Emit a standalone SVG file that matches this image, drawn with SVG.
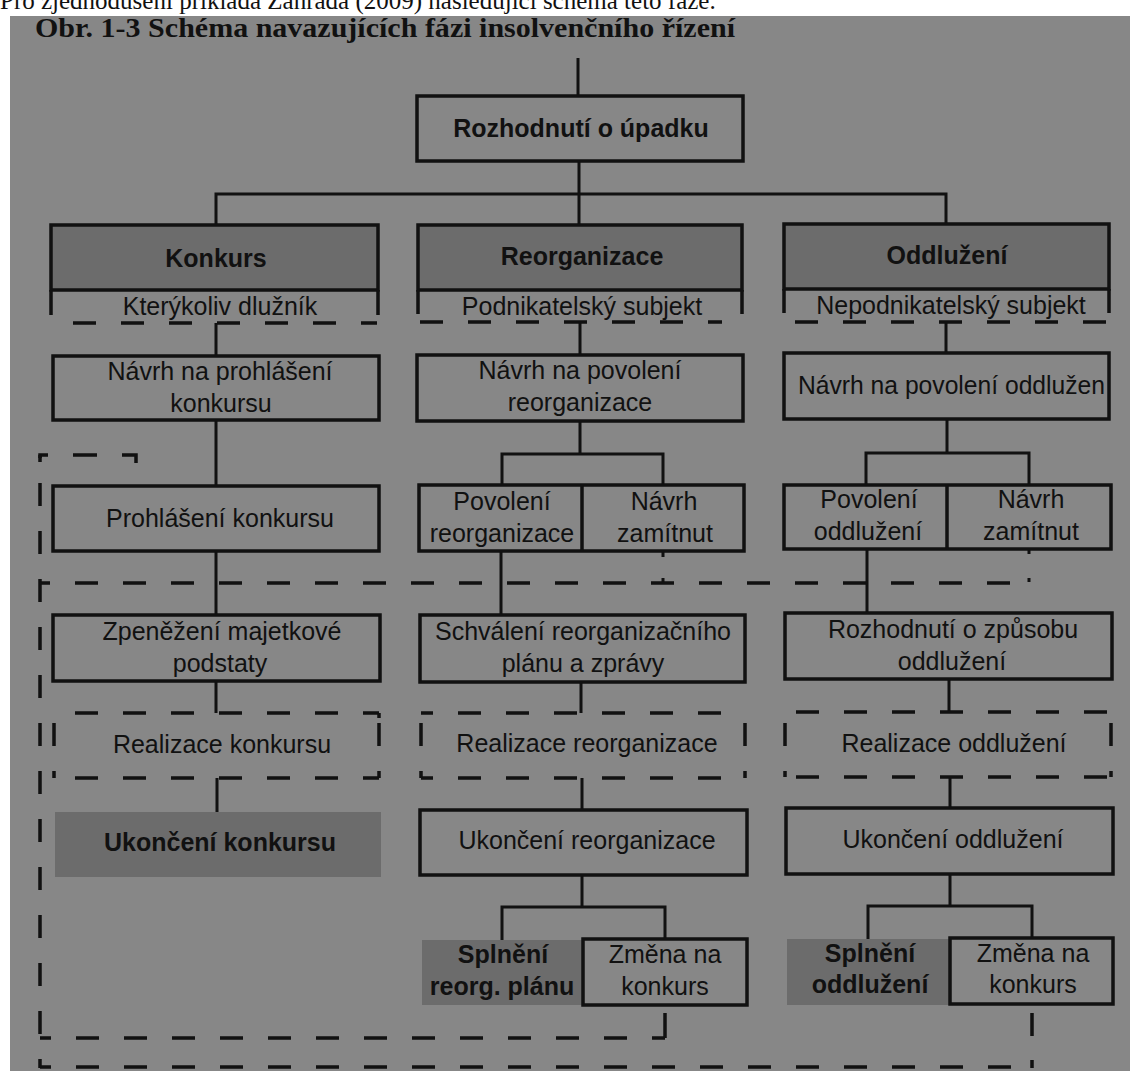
<svg xmlns="http://www.w3.org/2000/svg" width="1130" height="1071" viewBox="0 0 1130 1071">
<style>
.bg{fill:#878787}
.box{fill:none;stroke:#111;stroke-width:3.5}
.shade{fill:#6c6c6c}
.sbox{fill:#6c6c6c;stroke:#111;stroke-width:3.5}
.ln{fill:none;stroke:#111;stroke-width:3}
.d{fill:none;stroke:#111;stroke-width:3.5;stroke-dasharray:23 25}
.s{fill:none;stroke:#111;stroke-width:3.5}
text{font-family:"Liberation Sans",Arial,sans-serif;font-size:25px;fill:#111;text-anchor:middle}
.bt{font-weight:bold}
.top{font-family:"Liberation Serif","Times New Roman",serif;font-size:25px;text-anchor:start}
.title{font-family:"Liberation Serif","Times New Roman",serif;font-weight:bold;font-size:27px;text-anchor:start}
</style>
<rect width="1130" height="1071" fill="#ffffff"/>
<rect x="10" y="16" width="1120" height="1055" class="bg"/>
<text class="top" x="0" y="9">Pro zjednodušení přikládá Zahrada (2009) následující schéma této fáze.</text>
<text class="title" x="35" y="37" textLength="700" lengthAdjust="spacingAndGlyphs">Obr. 1-3 Schéma navazujících fázi insolvenčního řízení</text>

<g id="connectors">
  <path class="ln" d="M578,58 V96"/>
  <path class="ln" d="M579,161 V225 M216,225 V194 H946 V224"/>
  <path class="ln" d="M216,323 V356 M216,420 V486 M216,551 V615 M216,681 V713 M217,778 V812"/>
  <path class="ln" d="M580,322 V355 M580,421 V454 M502,485 V454 H663 V485 M501,551 V615 M581,682 V713 M582,778 V810 M582,875 V907 M502,940 V907 H665 V939"/>
  <path class="ln" d="M946,322 V353 M947,419 V453 M866,485 V453 H1029 V485 M867,549 V613 M949,679 V712 M950,777 V808 M950,874 V906 M868,939 V906 H1032 V938"/>
  <path class="ln" d="M663,551 V557 M663,578 V582 M1029,549 V554 M1029,578 V582"/>
  <path class="d" d="M73,323 H377"/>
  <path class="d" d="M420,322 H722"/>
  <path class="d" d="M795,322 H1107"/>
  <path class="s" d="M40,462 V455 H48 M73,455 H97 M122,455 H136 V463"/>
  <path class="d" d="M40,455 V1068" style="stroke-dashoffset:20"/>
  <path class="d" d="M40,583 H1030" style="stroke-dashoffset:13"/>
  <path class="d" d="M40,1038 H665" style="stroke-dashoffset:12"/>
  <path class="s" d="M665,1013 V1038"/>
  <path class="d" d="M40,1067 H1032" style="stroke-dashoffset:12"/>
  <path class="s" d="M1032,1013 V1036 M1032,1060 V1068"/>
</g>

<g id="n-rozhodnuti">
  <rect class="box" x="417" y="96" width="326" height="65"/>
  <text class="bt" x="581" y="137">Rozhodnutí o úpadku</text>
</g>

<g id="n-konkurs">
  <rect class="sbox" x="51" y="225" width="327" height="65"/>
  <path class="s" d="M51,290 V315 M378,290 V315"/>
  <text class="bt" x="216" y="267">Konkurs</text>
  <text x="220" y="315">Kterýkoliv dlužník</text>
</g>
<g id="n-navrh-konkurs">
  <rect class="box" x="53" y="356" width="326" height="64"/>
  <text x="220" y="380">Návrh na prohlášení</text>
  <text x="221" y="412">konkursu</text>
</g>
<g id="n-prohlaseni">
  <rect class="box" x="53" y="486" width="326" height="65"/>
  <text x="220" y="527">Prohlášení konkursu</text>
</g>
<g id="n-zpenezeni">
  <rect class="box" x="53" y="615" width="327" height="66"/>
  <text x="222" y="640">Zpeněžení majetkové</text>
  <text x="220" y="672">podstaty</text>
</g>
<g id="n-realizace-konkursu">
  <path class="d" d="M54,713 H379 M54,778 H379" style="stroke-dashoffset:27"/>
  <path class="d" d="M54,713 V778 M379,713 V778" style="stroke-dashoffset:38"/>
  <path class="s" d="M379,713 V718"/>
  <text x="222" y="753">Realizace konkursu</text>
</g>
<g id="n-ukonceni-konkursu">
  <rect class="shade" x="55" y="812" width="326" height="65"/>
  <text class="bt" x="220" y="851">Ukončení konkursu</text>
</g>

<g id="n-reorganizace">
  <rect class="sbox" x="418" y="225" width="324" height="65"/>
  <path class="s" d="M418,290 V314 M742,290 V314"/>
  <text class="bt" x="582" y="265">Reorganizace</text>
  <text x="582" y="315">Podnikatelský subjekt</text>
</g>
<g id="n-navrh-reorg">
  <rect class="box" x="417" y="355" width="326" height="66"/>
  <text x="580" y="379">Návrh na povolení</text>
  <text x="580" y="411">reorganizace</text>
</g>
<g id="n-povoleni-reorg">
  <rect class="box" x="419" y="485" width="325" height="66"/>
  <path class="s" d="M582,485 V551"/>
  <text x="502" y="510">Povolení</text>
  <text x="502" y="542">reorganizace</text>
  <text x="664" y="510">Návrh</text>
  <text x="665" y="542">zamítnut</text>
</g>
<g id="n-schvaleni">
  <rect class="box" x="420" y="615" width="325" height="67"/>
  <text x="583" y="640">Schválení reorganizačního</text>
  <text x="583" y="672">plánu a zprávy</text>
</g>
<g id="n-realizace-reorg">
  <path class="d" d="M421,713 H745 M421,778 H745" style="stroke-dashoffset:11"/>
  <path class="d" d="M421,713 V778 M745,713 V778" style="stroke-dashoffset:38"/>
  <text x="587" y="752">Realizace reorganizace</text>
</g>
<g id="n-ukonceni-reorg">
  <rect class="box" x="420" y="810" width="327" height="65"/>
  <text x="587" y="849">Ukončení reorganizace</text>
</g>
<g id="n-splneni-reorg">
  <rect class="shade" x="422" y="940" width="161" height="65"/>
  <text class="bt" x="503" y="963">Splnění</text>
  <text class="bt" x="502" y="995">reorg. plánu</text>
</g>
<g id="n-zmena-reorg">
  <rect class="box" x="583" y="939" width="164" height="66"/>
  <text x="665" y="963">Změna na</text>
  <text x="665" y="995">konkurs</text>
</g>

<g id="n-oddluzeni">
  <rect class="sbox" x="784" y="224" width="325" height="65"/>
  <path class="s" d="M784,289 V313 M1109,289 V313"/>
  <text class="bt" x="947" y="264">Oddlužení</text>
  <text x="951" y="314">Nepodnikatelský subjekt</text>
</g>
<g id="n-navrh-oddl">
  <rect class="box" x="784" y="353" width="325" height="66"/>
  <text x="798" y="394" style="text-anchor:start" textLength="307" lengthAdjust="spacingAndGlyphs">Návrh na povolení oddlužen</text>
</g>
<g id="n-povoleni-oddl">
  <rect class="box" x="784" y="485" width="327" height="64"/>
  <path class="s" d="M947,485 V549"/>
  <text x="869" y="508">Povolení</text>
  <text x="868" y="540">oddlužení</text>
  <text x="1031" y="508">Návrh</text>
  <text x="1031" y="540">zamítnut</text>
</g>
<g id="n-zpusob-oddl">
  <rect class="box" x="785" y="613" width="327" height="66"/>
  <text x="953" y="638">Rozhodnutí o způsobu</text>
  <text x="952" y="670">oddlužení</text>
</g>
<g id="n-realizace-oddl">
  <path class="d" d="M785,712 H1111 M785,777 H1111" style="stroke-dashoffset:37"/>
  <path class="d" d="M785,712 V777 M1111,712 V777" style="stroke-dashoffset:37"/>
  <text x="954" y="752">Realizace oddlužení</text>
</g>
<g id="n-ukonceni-oddl">
  <rect class="box" x="786" y="808" width="327" height="66"/>
  <text x="953" y="848">Ukončení oddlužení</text>
</g>
<g id="n-splneni-oddl">
  <rect class="shade" x="787" y="939" width="162" height="66"/>
  <text class="bt" x="870" y="962">Splnění</text>
  <text class="bt" x="870" y="993">oddlužení</text>
</g>
<g id="n-zmena-oddl">
  <rect class="box" x="950" y="938" width="163" height="66"/>
  <text x="1033" y="962">Změna na</text>
  <text x="1033" y="993">konkurs</text>
</g>
</svg>
